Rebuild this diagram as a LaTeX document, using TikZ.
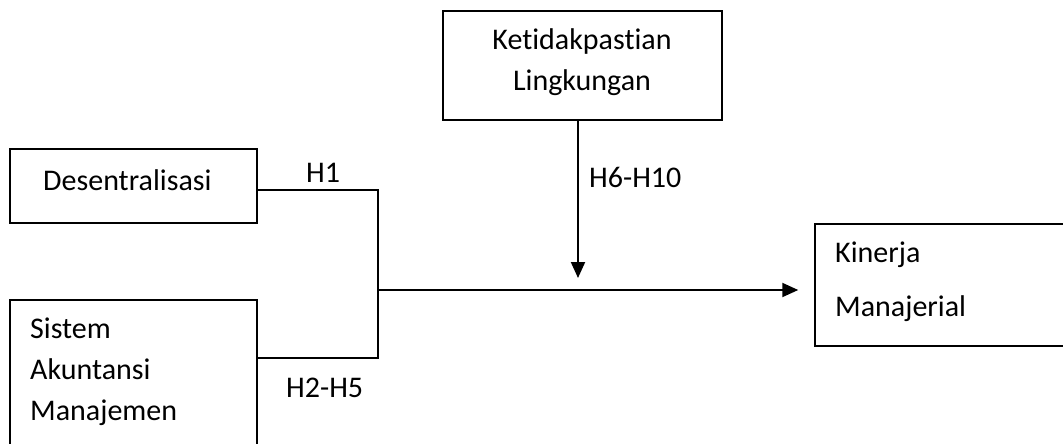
\documentclass[tikz,border=0pt]{standalone}
\usepackage{fontspec}
\setmainfont{Carlito}[RawFeature={-liga;-clig;-dlig}]
\usetikzlibrary{arrows.meta}
\begin{document}
\begin{tikzpicture}[x=1pt,y=-1pt,
  box/.style={draw, line width=1.5pt, inner sep=0pt},
  lbl/.style={anchor=base west, inner sep=0pt, font=\fontsize{30}{36}\selectfont},
  clbl/.style={anchor=base, inner sep=0pt, font=\fontsize{30}{36}\selectfont},
  conn/.style={line width=1.5pt},
  arr/.style={line width=2pt, -{Triangle[length=16pt,width=14pt]}}]
\useasboundingbox (0,0) rectangle (1063,444);
\clip (0,0) rectangle (1063,444);
% boxes
\node[box, minimum width=279pt, minimum height=109pt] (K) at (582.5,65.5) {};
\node[box, minimum width=247pt, minimum height=74pt] (D) at (133.5,186) {};
\node[box, minimum width=247pt, minimum height=170pt] (S) at (133.5,385) {};
\node[box, minimum width=265pt, minimum height=122pt] (M) at (947.5,285) {};
% texts
\node[clbl] (t1) at (582,49) {Ketidakpastian};
\node[clbl] (t2) at (582,91) {Lingkungan};
\node[lbl] (t3) at (43,190) {Desentralisasi};
\node[lbl] (t4) at (30,338) {Sistem};
\node[lbl] (t5) at (30,379) {Akuntansi};
\node[lbl] (t6) at (30,420) {Manajemen};
\node[lbl] (t7) at (835,262) {Kinerja};
\node[lbl] (t8) at (835,316) {Manajerial};
\node[lbl] (h1) at (306,182) {H1};
\node[lbl] (h2) at (286,397) {H2-H5};
\node[lbl] (h3) at (589,187) {H6-H10};
% connectors
\coordinate (j1) at (378,190);
\coordinate (j2) at (378,358);
\coordinate (j) at (378,290);
\coordinate (kd) at (578,278);
\draw[conn] (D.east |- j1) -- (j1) -- (j2) -- (S.east |- j2);
\draw[arr, shorten >=16pt] (j) -- (M.west |- j);
\draw[arr] (K.south -| kd) -- (kd);
\end{tikzpicture}
\end{document}
